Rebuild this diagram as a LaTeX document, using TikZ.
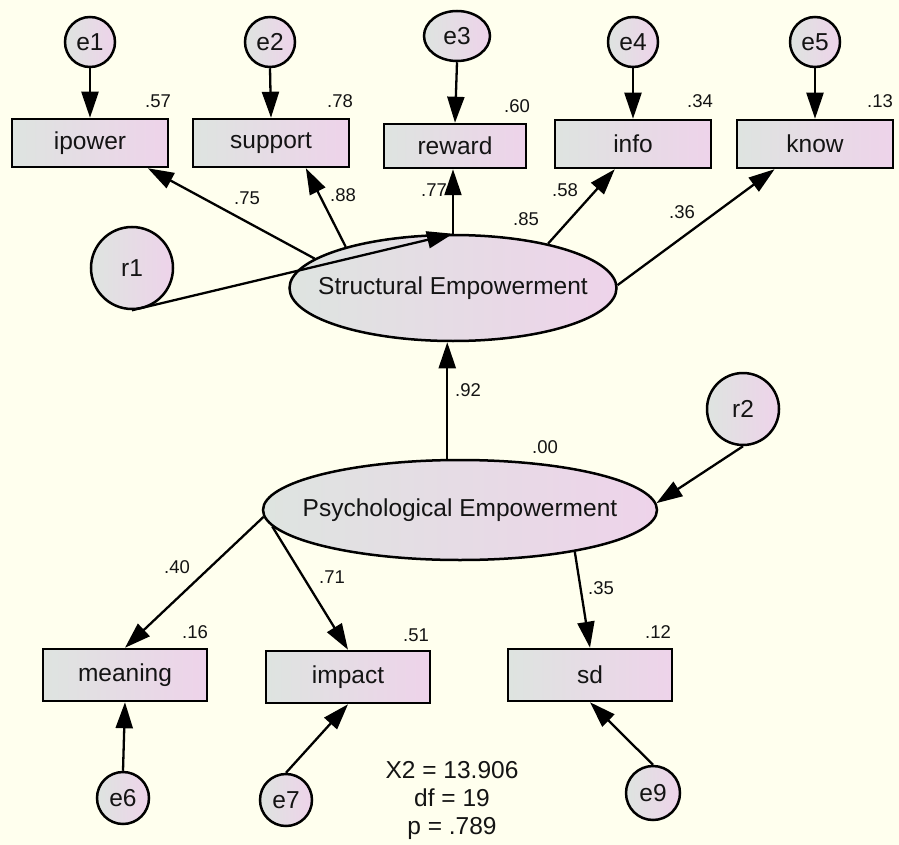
\documentclass[tikz,border=0pt]{standalone}
\usepackage{fontspec}
\setmainfont{Liberation Sans}
\usetikzlibrary{arrows.meta,shapes.geometric,calc}
\definecolor{bg}{RGB}{255,255,238}
\definecolor{fillL}{RGB}{222,228,224}
\definecolor{fillR}{RGB}{238,211,234}
\definecolor{ink}{RGB}{20,20,20}

\begin{document}
\begin{tikzpicture}[x=1pt,y=-1pt,
  shaded/.style={draw=black, line width=2.5pt, shading=axis, shading angle=-75,
    left color=fillL, right color=fillR, inner sep=0pt},
  obs/.style={shaded, rectangle, minimum width=156pt, minimum height=48pt,
    font=\fontsize{24.5}{28}\selectfont, text=ink},
  err/.style={shaded, circle, minimum size=50pt,
    font=\fontsize{24.5}{28}\selectfont, text=ink},
  lat/.style={shaded, ellipse},
  lbl/.style={font=\fontsize{24.5}{28}\selectfont, text=ink, inner sep=0pt},
  num/.style={font=\fontsize{18.5}{20}\selectfont, text=ink, inner sep=0pt},
  arr/.style={draw=black, line width=2.3pt, -{Triangle[length=26pt,width=17pt]}},
]
% canvas
\fill[bg] (0,0) rectangle (899,845);
\useasboundingbox (0,0) rectangle (899,845);

% indicators of structural empowerment
\node[obs] (ipower)  at (90,143)  {ipower};
\node[obs] (support) at (271,143) {support};
\node[obs, minimum width=142pt, minimum height=44pt] (reward) at (455,146) {reward};
\node[obs] (info)    at (633,144) {info};
\node[obs] (know)    at (815,144) {know};

% their error terms
\node[err] (e1) at (90,42)  {e1};
\node[err] (e2) at (270,42) {e2};
\node[err, ellipse, minimum width=66pt, minimum height=50pt] (e3) at (457,36) {e3};
\node[err] (e4) at (633,42) {e4};
\node[err] (e5) at (815,42) {e5};

% latent variables
\node[lat, minimum width=327pt, minimum height=106pt] (SE) at (453,288) {};
\node[lbl] (SEtext) at (SE) {Structural Empowerment};
\node[lat, minimum width=394pt, minimum height=100pt] (PE) at (460,510) {};
\node[lbl] (PEtext) at (PE) {Psychological Empowerment};

% disturbances
\node[err, minimum size=82pt] (r1) at (132,268) {r1};
\node[err, minimum size=72pt] (r2) at (743,409) {r2};

% indicators of psychological empowerment
\node[obs, minimum width=164pt, minimum height=52pt] (meaning) at (125,675) {meaning};
\node[obs, minimum width=164pt, minimum height=52pt] (impact)  at (348,677) {impact};
\node[obs, minimum width=164pt, minimum height=52pt] (sd)      at (590,675) {sd};

\node[err, minimum size=52pt] (e6) at (123,798) {e6};
\node[err, minimum size=52pt] (e7) at (286,800) {e7};
\node[err, minimum size=54pt] (e9) at (653,793) {e9};

% error paths, top row
\draw[arr] (e1.south) -- (ipower.north);
\draw[arr] (e2.south) -- (support.north);
\draw[arr] (e3.south) -- (reward.north);
\draw[arr] (e4.south) -- (info.north);
\draw[arr] (e5.south) -- (know.north);

% loadings of structural empowerment
\draw[arr] (SE.168)   -- ($(ipower.south)!0.73!(ipower.south east)$);
\draw[arr] (SE.159.7) -- ($(support.south)!0.44!(support.south east)$);
\draw[arr] (SE.90)    -- (SE.90 |- reward.south);
\draw[arr] (SE.25.4)  -- ($(info.south)!0.23!(info.south west)$);
\draw[arr] (SE.1)     -- ($(know.south)!0.51!(know.south west)$);

% disturbance r1
\draw[arr] (r1.south) -- (SE.90);

% structural path and disturbance r2
\draw[arr] (PE.104) -- (PE.104 |- SE.south);
\draw[arr] (r2.south) -- (PE.2);

% loadings of psychological empowerment
\draw[arr] (PE.182.3) -- (meaning.north);
\draw[arr] (PE.185.7) -- (impact.north);
\draw[arr] (PE.340)   -- (sd.north);

% error paths, bottom row
\draw[arr] (e6.north) -- (meaning.south);
\draw[arr] (e7.north) -- (impact.south);
\draw[arr] (e9.north) -- (sd.south);

% squared multiple correlations
\node[num] (n57) at (158,101) {.57};
\node[num] (n78) at (340,101) {.78};
\node[num] (n60) at (517,106) {.60};
\node[num] (n34) at (700,101) {.34};
\node[num] (n13) at (880,101) {.13};
\node[num] (n85) at (526,219) {.85};
\node[num] (n00) at (545,447) {.00};
\node[num] (n16) at (195,632) {.16};
\node[num] (n51) at (416,635) {.51};
\node[num] (n12) at (658,632) {.12};

% standardized weights
\node[num] (w75) at (247,198) {.75};
\node[num] (w88) at (343,195) {.88};
\node[num] (w77) at (434,190) {.77};
\node[num] (w58) at (565,190) {.58};
\node[num] (w36) at (682,212) {.36};
\node[num] (w92) at (468,390) {.92};
\node[num] (w40) at (177,567) {.40};
\node[num] (w71) at (332,577) {.71};
\node[num] (w35) at (601,588) {.35};

% fit statistics
\node[lbl, align=center] (fit) at (452,800)
  {X2 = 13.906\\df = 19\\p = .789};
\end{tikzpicture}
\end{document}
